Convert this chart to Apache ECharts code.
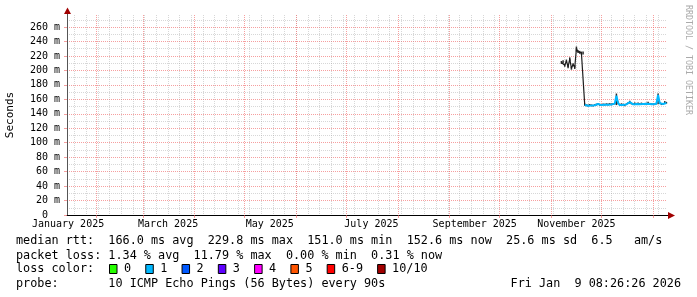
<!DOCTYPE html>
<html><head><meta charset="utf-8">
<script src="https://cdn.jsdelivr.net/npm/echarts@6/dist/echarts.min.js"></script>
<style>html,body{margin:0;padding:0;background:#fff}#c{width:697px;height:297px}</style>
</head><body><div id="c"></div>
<script>
// ---------- data ----------
const startTime = '2025-01-14 08:26:26';
const endTime = '2026-01-09 08:26:26';
const days = ['2025-11-07','2025-11-08','2025-11-09','2025-11-10','2025-11-11','2025-11-12','2025-11-13','2025-11-14','2025-11-15','2025-11-16','2025-11-17','2025-11-18','2025-11-19','2025-11-20','2025-11-21','2025-11-22','2025-11-23','2025-11-24','2025-11-25','2025-11-26','2025-11-27','2025-11-28','2025-11-29','2025-11-30','2025-12-01','2025-12-02','2025-12-03','2025-12-04','2025-12-05','2025-12-06','2025-12-07','2025-12-08','2025-12-09','2025-12-10','2025-12-11','2025-12-12','2025-12-13','2025-12-14','2025-12-15','2025-12-16','2025-12-17','2025-12-18','2025-12-19','2025-12-20','2025-12-21','2025-12-22','2025-12-23','2025-12-24','2025-12-25','2025-12-26','2025-12-27','2025-12-28','2025-12-29','2025-12-30','2025-12-31','2026-01-01','2026-01-02','2026-01-03','2026-01-04','2026-01-05','2026-01-06','2026-01-07','2026-01-08','2026-01-09'];
// median rtt in ms
const rttMedian = [211,212,207,213,205,216,203,208,204,230,226,225,224,224,152,151.5,151.2,152,151.4,151,151.8,152.5,153.5,152.2,152,152.8,152.4,153,152.6,153.2,152.8,153.5,154,165,155,152,153,152.2,151.5,153,154.5,156,154,153,154.2,153.5,154,153.2,154,153.5,153,153.8,155,153.5,153,153.2,153,154,166,154.5,153,153.5,156,155];
// smoke (min / max of the pings) in ms
const smokeLow = [209,210,205,211,203,213,201,206,202,226,224,223,222,222,151,150.5,150.2,151,150.4,150,150.8,151.5,152.5,151.2,151,151.8,151.4,152,151.6,152.2,151.8,152.5,153,152,153,151,152,151.2,150.5,152,153.5,154,153,152,153.2,152.5,153,152.2,153,152.5,152,152.8,154,152.5,152,152.2,152,153,153,153.5,152,152.5,154,154];
const smokeHigh = [213,214,209,215,207,218,205,210,207,233,228,227,226,226,154,153,152.7,153.5,152.9,152.5,153.3,154,155,153.7,153.5,154.3,153.9,154.5,154.1,154.7,154.3,155,155.5,168,157,153.5,154.5,153.7,153,154.5,156,158,155.5,154.5,155.7,155,155.5,154.7,155.5,155,154.5,155.3,156.5,155,154.5,154.7,154.5,155.5,168,156,154.5,155,157.5,156.5];
const lossSplit = 14; // index where loss colour changes
const monthStarts = ['2025-02-01','2025-03-01','2025-04-01','2025-05-01','2025-06-01','2025-07-01','2025-08-01','2025-09-01','2025-10-01','2025-11-01','2025-12-01','2026-01-01'];
const xLabelDates = ['2025-01-15','2025-03-16','2025-05-16','2025-07-16','2025-09-16','2025-11-16'];
const xTickLabels = ['January 2025','March 2025','May 2025','July 2025','September 2025','November 2025'];
const yMajorTicks = [0,20,40,60,80,100,120,140,160,180,200,220,240,260];
const yMinorTicks = [10,30,50,70,90,110,130,150,170,190,210,230,250,270];
const lossLabels = ['0','1','2','3','4','5','6-9','10/10'];
const lossColors = ['#26ff00','#00b8ff','#0059ff','#5e00ff','#ff00ff','#ff5500','#ff0000','#a10000'];
const legendLines = [
  'median rtt:  166.0 ms avg  229.8 ms max  151.0 ms min  152.6 ms now  25.6 ms sd  6.5   am/s',
  'packet loss: 1.34 % avg  11.79 % max  0.00 % min  0.31 % now',
  'loss color:',
  'probe:       10 ICMP Echo Pings (56 Bytes) every 90s'
];
const stampText = 'Fri Jan  9 08:26:26 2026';

// ---------- helpers ----------
function ts(s){const [d,t='00:00:00']=s.split(' ');const [Y,M,D]=d.split('-').map(Number);const [h,m,x]=t.split(':').map(Number);return new Date(Y,M-1,D,h,m,x).getTime();}
const tStart = ts(startTime), tEnd = ts(endTime);
const monthTs = monthStarts.map(ts);
const weekTicks = [];
for (let k=0;;k++){const t=new Date(2025,0,19+7*k).getTime(); if(t>tEnd)break; weekTicks.push(t);}
const xLabelTs = xLabelDates.map(ts);
const dayTs = days.map(ts);

const FONT='DejaVu Sans Mono';
const RED='rgba(240,95,95,0.6)';
const GREY='rgba(150,150,150,0.38)';
const CH=7.08, FS=11.8;

const chart = echarts.init(document.getElementById('c'));

const graphics = [];
graphics.push({type:'text',x:10,y:115,rotation:Math.PI/2,style:{text:'Seconds',font:'11px '+FONT,fill:'#000',align:'center',verticalAlign:'middle'}});
graphics.push({type:'text',x:688.5,y:60,rotation:-Math.PI/2,style:{text:'RRDTOOL / TOBI OETIKER',font:'8.3px '+FONT,fill:'#aaaaaa',align:'center',verticalAlign:'middle'}});
const lineY=[241,255.5,269,283.5];
legendLines.forEach((s,i)=>graphics.push({type:'text',x:16,y:lineY[i],style:{text:s,font:FS+'px '+FONT,fill:'#000',align:'left',verticalAlign:'middle'}}));
graphics.push({type:'text',x:681,y:lineY[3],style:{text:stampText,font:FS+'px '+FONT,fill:'#000',align:'right',verticalAlign:'middle'}});
let bx=109;
lossLabels.forEach((lab,i)=>{
  graphics.push({type:'rect',shape:{x:bx+0.5,y:lineY[2]-4.5,width:7.5,height:9},style:{fill:lossColors[i],stroke:'#000',lineWidth:1}});
  graphics.push({type:'text',x:bx+15,y:lineY[2],style:{text:lab,font:FS+'px '+FONT,fill:'#000',align:'left',verticalAlign:'middle'}});
  bx += 15 + lab.length*CH + 14.2;
});
// arrows at axis ends
graphics.push({type:'line',shape:{x1:67.5,y1:15,x2:67.5,y2:12},style:{stroke:'#555',lineWidth:1}});
graphics.push({type:'polygon',shape:{points:[[67.5,7.5],[64,14],[71,14]]},style:{fill:'#a00000'}});
graphics.push({type:'line',shape:{x1:667,y1:215.5,x2:669,y2:215.5},style:{stroke:'#000',lineWidth:1}});
graphics.push({type:'polygon',shape:{points:[[675,215.5],[668,212],[668,219]]},style:{fill:'#a00000'}});

const option = {
  animation:false,
  backgroundColor:'#fff',
  grid:{left:67,top:15,width:600,height:200,containLabel:false},
  xAxis:[
    {type:'value',min:tStart,max:tEnd,position:'bottom',
     axisLine:{show:false},axisLabel:{show:false},
     axisTick:{show:false,customValues:weekTicks},
     splitLine:{show:true,lineStyle:{color:GREY,type:[1,1],width:1}}},
    {type:'value',min:tStart,max:tEnd,position:'bottom',
     axisLine:{show:true,lineStyle:{color:'#000',width:1}},
     axisTick:{show:true,length:3,inside:false,customValues:monthTs,lineStyle:{color:RED}},
     axisLabel:{show:true,customValues:xLabelTs,margin:4,color:'#000',fontFamily:FONT,fontSize:10,
       formatter:v=>{const i=xLabelTs.indexOf(v);return i>=0?xTickLabels[i]:'';}},
     splitLine:{show:true,lineStyle:{color:RED,type:[1,1],width:1}}}
  ],
  yAxis:[
    {type:'value',min:0,max:276.6,position:'left',
     axisLine:{show:false},axisLabel:{show:false},
     axisTick:{show:false,customValues:yMinorTicks},
     splitLine:{show:true,lineStyle:{color:GREY,type:[1,1],width:1}}},
    {type:'value',min:0,max:276.6,position:'left',
     axisLine:{show:true,lineStyle:{color:'#555',width:1}},
     axisTick:{show:true,length:3,customValues:yMajorTicks,lineStyle:{color:RED}},
     axisLabel:{show:true,customValues:yMajorTicks,margin:7,color:'#000',fontFamily:FONT,fontSize:10,
       formatter:v=>v===0?'0  ':v+' m'},
     splitLine:{show:true,lineStyle:{color:RED,type:[1,1],width:1}}}
  ],
  series:[
    {type:'custom',xAxisIndex:1,yAxisIndex:1,silent:true,z:3,
     encode:{x:0,y:[1,2]},
     data:dayTs.map((t,i)=>[t,smokeLow[i],smokeHigh[i]]),
     renderItem:(params,api)=>{
       const lo=api.coord([api.value(0),api.value(1)]);
       const hi=api.coord([api.value(0),api.value(2)]);
       return {type:'rect',shape:{x:lo[0]-0.75,y:hi[1],width:1.5,height:lo[1]-hi[1]},style:{fill:'#2a2a2a'}};
     }},
    {type:'line',xAxisIndex:1,yAxisIndex:1,showSymbol:false,symbol:'none',z:5,
     lineStyle:{color:'#1e1e1e',width:1.2},data:dayTs.slice(0,lossSplit+1).map((t,i)=>[t,rttMedian[i]])},
    {type:'line',xAxisIndex:1,yAxisIndex:1,showSymbol:false,symbol:'none',z:5,
     lineStyle:{color:'#00b8ff',width:2},data:dayTs.slice(lossSplit).map((t,i)=>[t,rttMedian[i+lossSplit]])}
  ],
  graphic:graphics
};
chart.setOption(option);
</script></body></html>
